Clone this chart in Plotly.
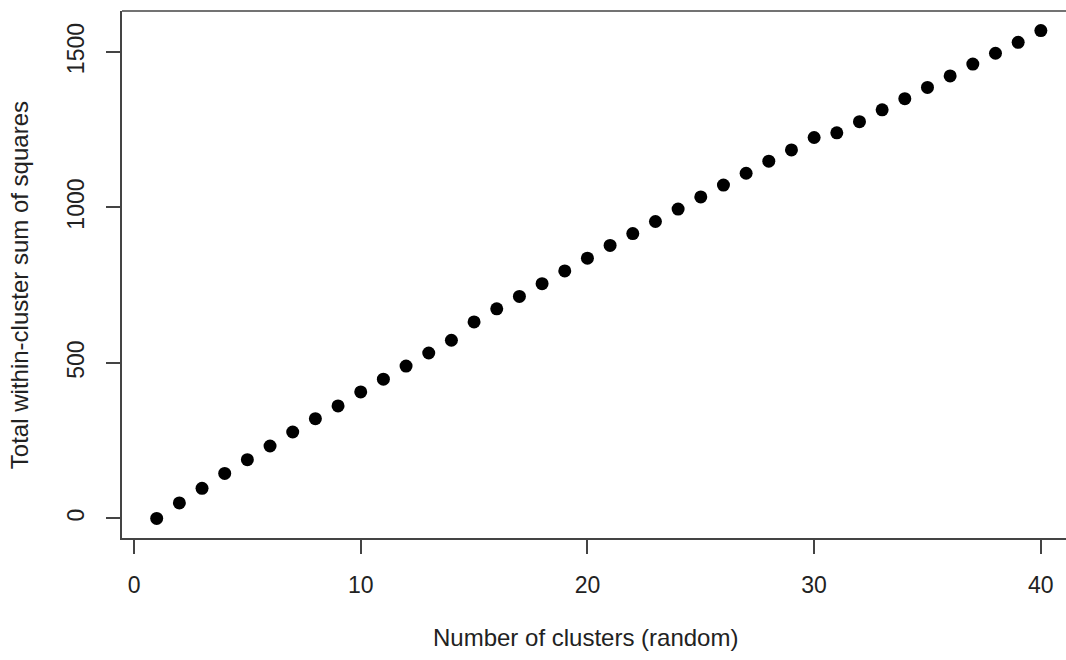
import plotly.graph_objects as go

clusters = list(range(1, 41))
wss = [0, 50, 97, 145, 189, 233, 278, 321, 362, 407,
       448, 490, 532, 573, 632, 674, 714, 755, 796, 837,
       878, 916, 955, 995, 1034, 1072, 1110, 1149, 1185, 1225,
       1240, 1276, 1314, 1350, 1386, 1423, 1461, 1496, 1531, 1569]

x_ticks = [0, 10, 20, 30, 40]
y_ticks = [0, 500, 1000, 1500]
x_title = "Number of clusters (random)"
y_title = "Total within-cluster sum of squares"

FONT = "Liberation Sans, Arial, Helvetica, sans-serif"
TXT = "#222222"
LINE = "#444444"

fig = go.Figure()
fig.add_trace(go.Scatter(
    x=clusters, y=wss, mode="markers",
    marker=dict(color="black", size=13, line=dict(width=0)),
    showlegend=False, hoverinfo="x+y",
))

fig.update_layout(
    width=1066, height=660,
    margin=dict(l=122, r=0, t=11, b=122, pad=0),
    paper_bgcolor="white", plot_bgcolor="white",
    font=dict(family=FONT, size=23, color=TXT),
    xaxis=dict(
        range=[-0.53, 41.11], tickmode="array", tickvals=x_ticks,
        ticks="outside", ticklen=14, tickwidth=1.5, tickcolor=LINE,
        showline=True, linecolor=LINE, linewidth=1.5,
        showgrid=False, zeroline=False,
        tickfont=dict(size=23, color=TXT), ticklabelstandoff=12,
    ),
    yaxis=dict(
        range=[-62.8, 1631.8], tickmode="array", tickvals=y_ticks,
        ticks="outside", ticklen=14, tickwidth=1.5, tickcolor=LINE,
        showline=True, linecolor=LINE, linewidth=1.5,
        showgrid=False, zeroline=False, tickangle=-90,
        tickfont=dict(size=23, color=TXT), ticklabelstandoff=13,
    ),
    shapes=[dict(type="line", xref="paper", yref="paper", x0=0, x1=1, y0=1, y1=1,
                 line=dict(color=LINE, width=1.5))],
    annotations=[
        dict(text=x_title, xref="paper", yref="paper", x=0.4915, y=-0.188,
             showarrow=False, xanchor="center", yanchor="middle",
             font=dict(size=24, color=TXT)),
        dict(text=y_title, xref="paper", yref="paper", x=-0.109, y=0.48,
             showarrow=False, xanchor="center", yanchor="middle", textangle=-90,
             font=dict(size=24, color=TXT)),
    ],
)

fig.write_html("out.html",
               config={"displayModeBar": False},
               post_script="document.body.style.margin='0';document.body.style.overflow='hidden';")
